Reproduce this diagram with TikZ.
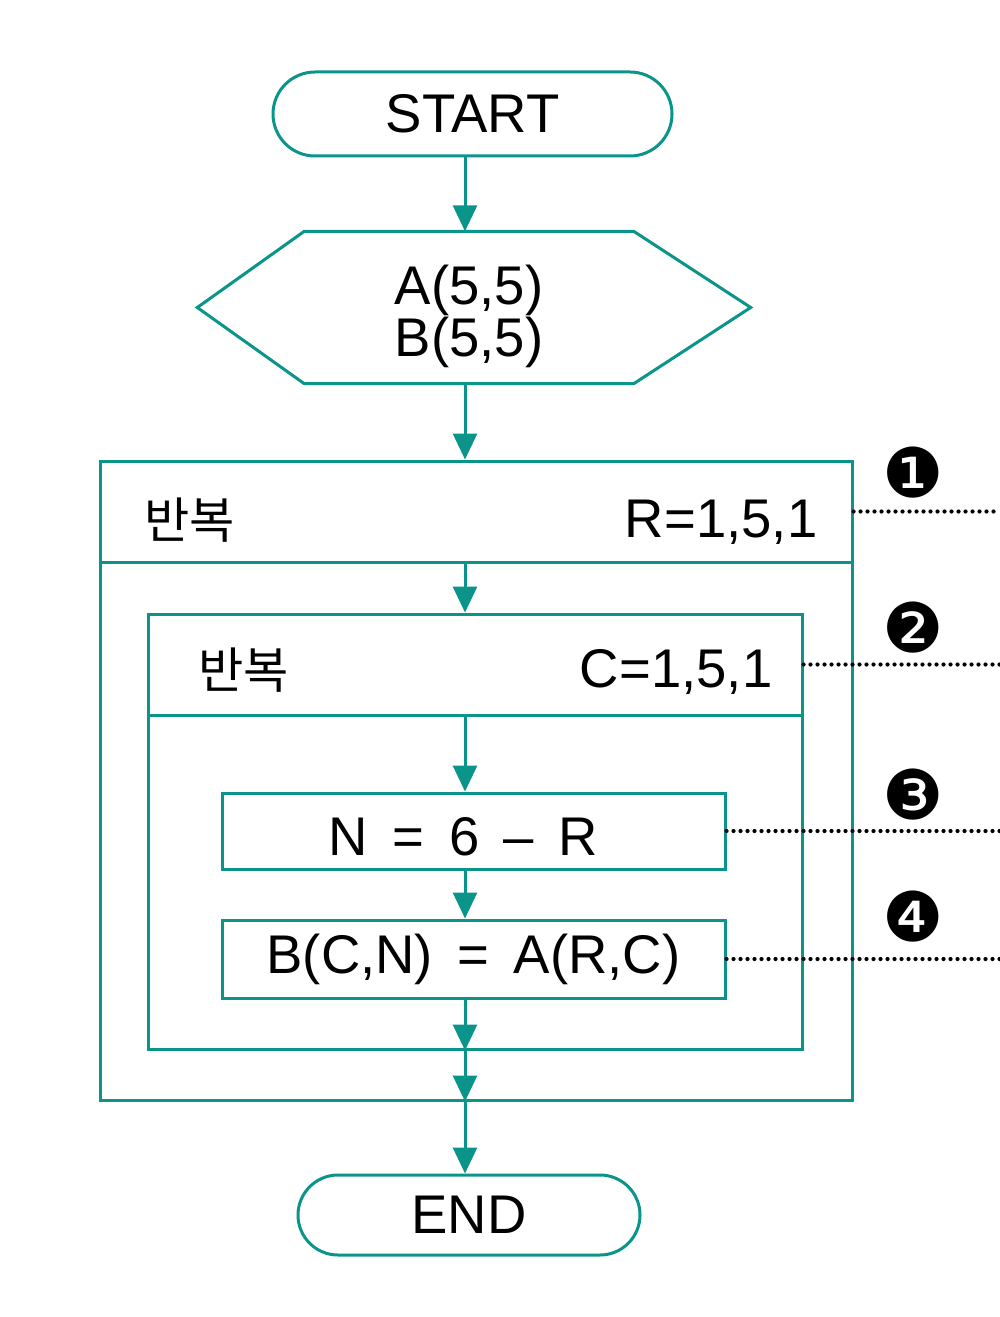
\documentclass[tikz,border=0pt]{standalone}
\usepackage{fontspec}
\setmainfont{Liberation Sans}
\newfontfamily\kofont{Noto Sans CJK KR}
\newfontfamily\dingfont{DejaVu Sans}
\usetikzlibrary{arrows.meta,positioning}
\definecolor{flowteal}{RGB}{10,148,138}
\newcommand\gap{\hskip0.45em\relax}
\tikzset{tealline/.style={draw=flowteal,line width=0.3mm},
  term/.style={tealline,inner sep=0pt,font=\fontsize{15.5}{18}\selectfont},
  procbox/.style={tealline,inner sep=0pt,font=\fontsize{15.5}{18}\selectfont},
  loopbox/.style={tealline,inner sep=0pt},
  lbl/.style={inner sep=0pt,font=\fontsize{15.5}{18}\selectfont},
  kolbl/.style={inner sep=0pt,font=\kofont\fontsize{14}{16}\selectfont},
  num/.style={inner sep=0pt,font=\dingfont\fontsize{19.5}{22}\selectfont},
  flow/.style={flowteal,line width=0.3mm,-{Triangle[length=2.6mm,width=2.4mm]}},
  dotline/.style={black,line width=0.42mm,line cap=round,dash pattern=on 0pt off 0.7mm}}

\begin{document}
\begin{tikzpicture}[x=1mm,y=-1mm]
\useasboundingbox (0,0) rectangle (100,131.7);
\coordinate (ax) at (46.5,0);
\coordinate (edge) at (100,0);
% start and the array box
\node[term,rounded corners=4.2mm,minimum width=39.9mm,minimum height=8.4mm] (start) at (47.25,11.4) {START};
\node[inner sep=0pt,minimum width=32.8mm,minimum height=15.1mm] (hex) at (46.9,30.75) {};
\draw[tealline] (hex.north west) -- ([xshift=-10.7mm]hex.west) -- (hex.south west) -- (hex.south east) -- ([xshift=11.7mm]hex.east) -- (hex.north east) -- cycle;
\node[align=center,inner sep=0pt,font=\fontsize{15.5}{14.8}\selectfont] (arrays) at ([yshift=-0.9mm]hex.center) {A(5,5)\\B(5,5)};
% outer loop
\node[loopbox,minimum width=75.1mm,minimum height=63.9mm] (rloop) at (47.65,78.05) {};
\node[loopbox,minimum width=75.1mm,minimum height=10.1mm] (rhead) at (47.65,51.15) {};
\node[kolbl,anchor=west] (rkey) at (14.4,52) {반복};
\node[lbl,anchor=east] (rrange) at (81.8,52.2) {R=1,5,1};
% inner loop
\node[loopbox,minimum width=65.4mm,minimum height=43.5mm] (cloop) at (47.5,83.15) {};
\node[loopbox,minimum width=65.4mm,minimum height=10.1mm] (chead) at (47.5,66.45) {};
\node[kolbl,anchor=west] (ckey) at (19.8,67) {반복};
\node[lbl,anchor=east] (crange) at (77.3,67.2) {C=1,5,1};
\node[procbox,minimum width=50.3mm,minimum height=7.6mm] (nbox) at (47.35,83.1) {};
\node[lbl] (ntext) at ([xshift=-1mm,yshift=-0.6mm]nbox.center) {N\gap=\gap6\gap--\gap R};
\node[procbox,minimum width=50.3mm,minimum height=7.8mm] (bbox) at (47.35,95.9) {B(C,N)\gap=\gap A(R,C)};
\node[term,rounded corners=4mm,minimum width=34.2mm,minimum height=8mm] (stop) at (46.9,121.5) {END};
% flow
\foreach \a/\b in {start/hex,hex/rhead,rhead/chead,chead/nbox,nbox/bbox}
  \draw[flow] (\a.south -| ax) -- (\b.north -| ax);
\foreach \a/\b in {bbox/cloop,cloop/rloop}
  \draw[flow] (\a.south -| ax) -- (\b.south -| ax);
\draw[flow] (rloop.south -| ax) -- (stop.north -| ax);
% markers
\foreach \s/\g/\y in {rhead/❶/47.3,chead/❷/62.8,nbox/❸/79.5,bbox/❹/91.7}{
  \node[num] (m\s) at (91.3,\y) {\g};
  \draw[dotline] (\s.east) -- (\s.east -| edge);
}
\end{tikzpicture}
\end{document}
